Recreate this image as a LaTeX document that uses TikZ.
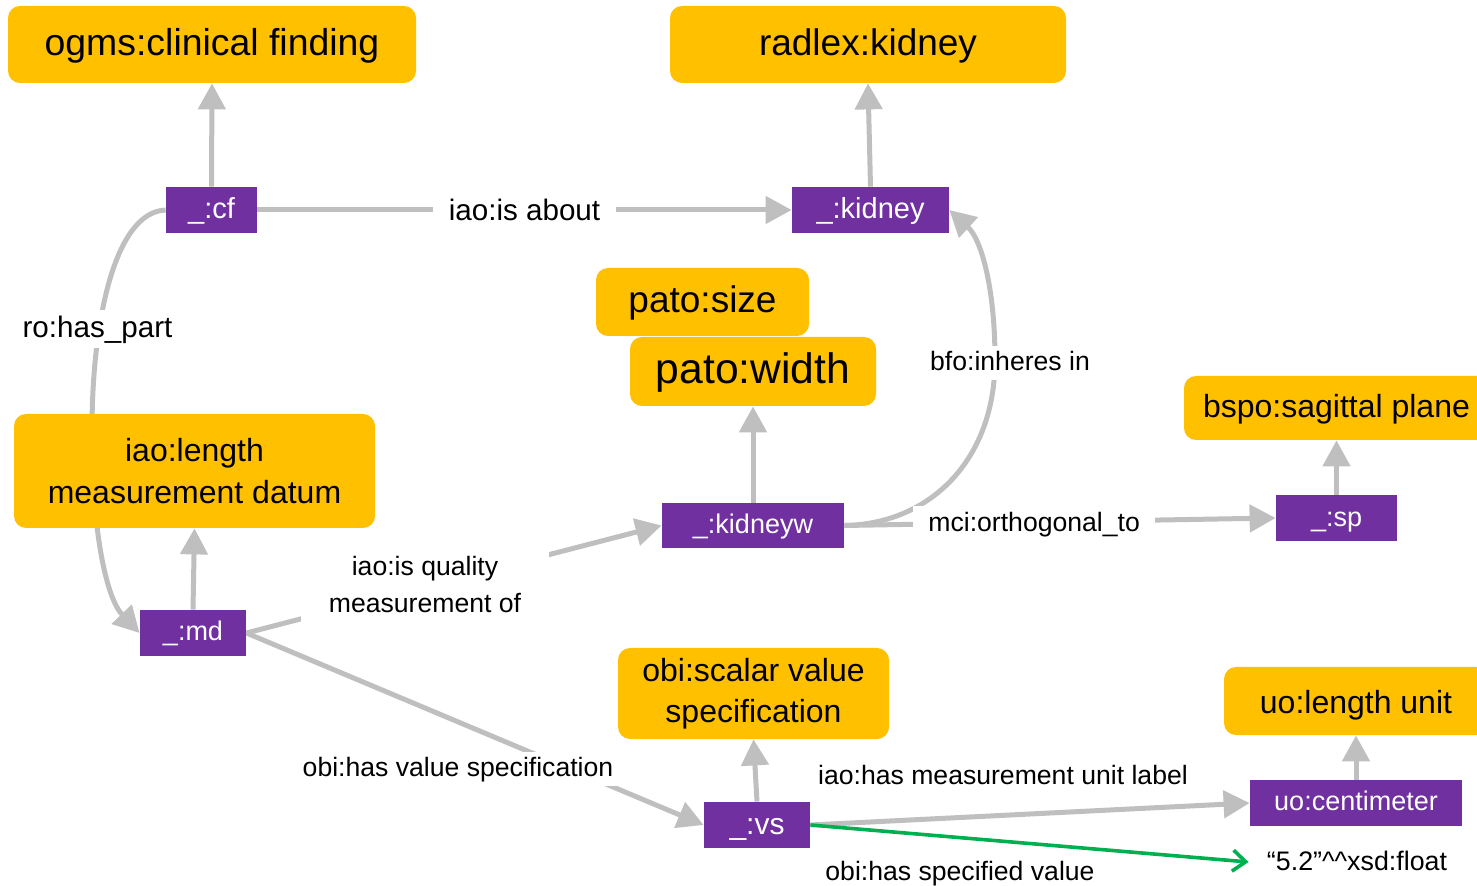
\documentclass[tikz,border=0pt]{standalone}
\usepackage{fontspec}
\setmainfont{Liberation Sans}
\usetikzlibrary{arrows.meta,backgrounds}
\definecolor{ybox}{HTML}{FFC000}
\definecolor{pbox}{HTML}{7030A0}
\definecolor{edgegray}{HTML}{BFBFBF}
\definecolor{litgreen}{HTML}{00B050}
\begin{document}
\begin{tikzpicture}[x=0.5pt,y=-0.5pt,
  ol/.style 2 args={text height=#1, text depth=#2},
  cls/.style={fill=ybox, rounded corners=6pt, inner sep=0pt, text=black},
  bigcls/.style={cls, ol={14.6pt}{3.9pt}, font=\fontsize{18.5}{21}\selectfont},
  midcls/.style={cls, ol={12.8pt}{3.2pt}, font=\fontsize{16}{21}\selectfont},
  twocls/.style={cls, align=center, font=\fontsize{16}{21}\selectfont},
  inst/.style={fill=pbox, inner sep=0pt, text=white, minimum height=23pt, ol={10.6pt}{2.9pt}, font=\fontsize{13.5}{16}\selectfont},
  instbig/.style={inst, ol={11.6pt}{2.9pt}, font=\fontsize{14.5}{16}\selectfont},
  rel/.style={draw=edgegray, line width=2.5pt, -{Triangle[length=13pt,width=13.5pt]}},
  rellit/.style={draw=litgreen, line width=1.8pt, -{Straight Barb[length=6.5pt,width=10.5pt,line width=1.8pt]}},
  elabel/.style={fill=white, inner xsep=3pt, inner ysep=2pt, ol={10.6pt}{2.7pt}, text=black, font=\fontsize{13.3}{17.5}\selectfont},
  elabelbig/.style={elabel, ol={11.8pt}{3pt}, font=\fontsize{14.8}{17.5}\selectfont},
  elabeltwo/.style={fill=white, inner xsep=3pt, inner ysep=5pt, align=center, text=black, font=\fontsize{13.3}{18.5}\selectfont}]
\useasboundingbox (0,0) rectangle (1477,886);

% class nodes
\node[bigcls, minimum width=204pt, minimum height=38.5pt, ol={14.8pt}{3.9pt}, font=\fontsize{18.7}{21}\selectfont] (ogms) at (212,44.5) {ogms:clinical finding};
\node[bigcls, minimum width=198pt, minimum height=38.5pt] (radlex) at (868,44.5) {radlex:kidney};
\node[bigcls, minimum width=106.5pt, minimum height=34pt] (patosize) at (702.5,302) {pato:size};
\node[cls, minimum width=123pt, minimum height=34.5pt, ol={16.8pt}{4.5pt}, font=\fontsize{21.3}{24}\selectfont] (patowidth) at (753,371.5) {pato:width};
\node[twocls, minimum width=180.5pt, minimum height=57pt] (iaolen) at (194.5,471) {iao:length\\measurement datum};
\node[midcls, minimum width=152.5pt, minimum height=32pt] (bspo) at (1336.5,408) {bspo:sagittal plane};
\node[twocls, minimum width=135.5pt, minimum height=45.5pt, font=\fontsize{16}{20.3}\selectfont] (scalar) at (753.5,693.5) {obi:scalar value\\specification};
\node[midcls, minimum width=132pt, minimum height=34pt, ol={14.8pt}{2.7pt}] (lenunit) at (1356,701) {uo:length unit};

% instance nodes
\node[instbig, minimum width=45.5pt] (cf) at (211.5,210) {\_:cf};
\node[instbig, minimum width=78.5pt] (kidney) at (870.5,210) {\_:kidney};
\node[inst, minimum width=91pt, minimum height=22.5pt] (kidneyw) at (753,525.5) {\_:kidneyw};
\node[inst, minimum width=60.5pt, ol={10.8pt}{2.7pt}] (sp) at (1336.5,518) {\_:sp};
\node[inst, minimum width=53pt] (md) at (193,633) {\_:md};
\node[inst, minimum width=53pt, ol={12pt}{3pt}, font=\fontsize{15}{16}\selectfont] (vs) at (757,825) {\_:vs};
\node[inst, minimum width=106pt] (cm) at (1356,803) {uo:centimeter};

% literal
\node[ol={10.7pt}{2.7pt}, inner xsep=9pt, inner ysep=2pt, font=\fontsize{13.4}{16}\selectfont] (lit) at (1357,862) {“5.2”\textasciicircum\textasciicircum xsd:float};

\begin{pgfonlayer}{background}
\draw[rel] (cf.north) -- (ogms.south);
\draw[rel] (kidney.north) -- (radlex.south);
\draw[rel] (cf.east) -- node[elabelbig, inner xsep=8pt, yshift=-0.8pt] (labout) {iao:is about} (kidney.west);
\draw[rel] (cf.west) .. controls (115,212) and (92,320) .. (92,430)
   .. controls (92,540) and (108,600) .. (md.west);
\node[elabelbig] (lhaspart) at (97.5,329) {ro:has\_part};
\draw[rel] (md.north) -- (iaolen.south);
\draw[rel] (md.east) -- (kidneyw.west);
\node[elabeltwo, inner xsep=14pt] (lquality) at (425,584.5) {iao:is quality\\measurement of};
\draw[rel] (kidneyw.north) -- (patowidth.south);
\draw[rel] (kidneyw.east) .. controls (930,524) and (995,460) .. (995,360)
   .. controls (995,290) and (982,240) .. (kidney.east);
\node[elabel] (linheres) at (1010,363) {bfo:inheres in};
\draw[rel] (kidneyw.east) -- node[elabel, pos=0.44, inner xsep=7.5pt, yshift=-0.5pt] (lortho) {mci:orthogonal\_to} (sp.west);
\draw[rel] (sp.north) -- (bspo.south);
\draw[rel] (md.east) -- (vs.west);
\node[elabel] (lvaluespec) at (458,769) {obi:has value specification};
\draw[rel] (vs.north) -- (scalar.south);
\draw[rel] (vs.east) -- (cm.west);
\node[elabel] (lunit) at (1003,777) {iao:has measurement unit label};
\draw[rellit] (vs.east) -- (lit.west);
\node[elabel] (lspecval) at (960,873) {obi:has specified value};
\draw[rel] (cm.north) -- (lenunit.south);
\end{pgfonlayer}
\end{tikzpicture}
\end{document}
